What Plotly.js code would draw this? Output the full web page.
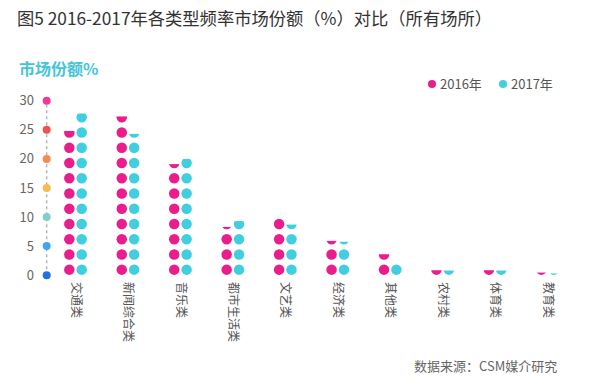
<!DOCTYPE html>
<html>
<head>
<meta charset="utf-8">
<script src="https://cdn.plot.ly/plotly-3.0.1.min.js"></script>
<style>html,body{margin:0;padding:0;background:#fff;}#chart{width:605px;height:386px;}</style>
</head>
<body>
<div id="chart"></div>
<script>
// ---- data ----
const categories = ['交通类','新闻综合类','音乐类','都市生活类','文艺类','经济类','其他类','农村类','体育类','教育类'];
const share2016 = [24.8, 27.3, 19.1, 8.3, 9.7, 5.9, 3.6, 0.85, 0.85, 0.45];
const share2017 = [27.8, 24.3, 20.0, 9.3, 8.7, 5.75, 2.0, 0.8, 0.8, 0.3];
const seriesNames = ['2016年', '2017年'];
const yTicks = [0, 5, 10, 15, 20, 25, 30];
const yTickColors = ['#1f6fe5', '#3ea6f4', '#80cfcf', '#f8bb4d', '#f78a4c', '#f0504f', '#ee3a9e'];

// ---- style ----
const PINK = '#e91e8c', CYAN = '#41cedf';
const FONT = '"Noto Sans CJK SC", "Noto Sans", sans-serif';
const W = 605, H = 386, L = 43, R = 26, T = 92, B = 105.2;
const PW = W - L - R, PH = H - T - B;
const DOT0 = 0.95, STEP = 2.62, DOTR = 0.9, OFF = 0.118, AXIS_X = -0.55;
const px2x = p => (p - L) / PW;
const py2y = p => (H - B - p) / PH;

function dotColumn(vals, off) {
  const xs = [], ys = [];
  vals.forEach((v, i) => {
    for (let k = 0; ; k++) {
      const c = DOT0 + k * STEP;
      if (c - DOTR >= v) break;
      xs.push(i + off); ys.push(c);
    }
  });
  return {xs, ys};
}
const d16 = dotColumn(share2016, -OFF);
const d17 = dotColumn(share2017, OFF);

const traces = [
  {x: yTicks.map(() => AXIS_X), y: yTicks, mode: 'lines', line: {color: '#b5b5b5', width: 1.5, dash: 'dot'}, hoverinfo: 'skip', showlegend: false},
  {x: yTicks.map(() => AXIS_X), y: yTicks, mode: 'markers', marker: {size: 8, color: yTickColors}, cliponaxis: false, hoverinfo: 'skip', showlegend: false},
  {x: d16.xs, y: d16.ys, mode: 'markers', name: seriesNames[0], marker: {size: 10.5, color: PINK}, cliponaxis: false, hoverinfo: 'skip', showlegend: false},
  {x: d17.xs, y: d17.ys, mode: 'markers', name: seriesNames[1], marker: {size: 10.5, color: CYAN}, cliponaxis: false, hoverinfo: 'skip', showlegend: false}
];

const shapes = [];
[[share2016, -OFF], [share2017, OFF]].forEach(([vals, off]) => {
  vals.forEach((v, i) => {
    shapes.push({type: 'rect', xref: 'x', yref: 'y', layer: 'above',
      x0: i + off - 0.115, x1: i + off + 0.115, y0: v, y1: v + 2.2,
      fillcolor: '#ffffff', line: {width: 0}});
  });
});
// legend dots
[[PINK, 432], [CYAN, 503]].forEach(([col, px]) => {
  shapes.push({type: 'circle', xref: 'paper', yref: 'paper', xsizemode: 'pixel', ysizemode: 'pixel',
    xanchor: px2x(px), yanchor: py2y(84), x0: -4, x1: 4, y0: -4, y1: 4,
    fillcolor: col, line: {width: 0}});
});

const annotations = [
  {text: '<b>市场份额%</b>', xref: 'paper', yref: 'paper', x: px2x(17), y: py2y(68), xanchor: 'left', yanchor: 'middle', showarrow: false,
   font: {family: FONT, size: 16, color: '#3fc6d8'}},
  {text: seriesNames[0], xref: 'paper', yref: 'paper', x: px2x(438), y: py2y(84), xanchor: 'left', yanchor: 'middle', showarrow: false,
   font: {family: FONT, size: 13, color: '#555'}},
  {text: seriesNames[1], xref: 'paper', yref: 'paper', x: px2x(509), y: py2y(84), xanchor: 'left', yanchor: 'middle', showarrow: false,
   font: {family: FONT, size: 13, color: '#555'}},
  {text: '数据来源：CSM媒介研究', xref: 'paper', yref: 'paper', x: px2x(412), y: py2y(365), xanchor: 'left', yanchor: 'middle', showarrow: false,
   font: {family: FONT, size: 13, color: '#666'}}
];

const layout = {
  width: W, height: H,
  margin: {l: L, r: R, t: T, b: B, pad: 0},
  paper_bgcolor: '#fff', plot_bgcolor: '#fff',
  font: {family: FONT, color: '#555'},
  title: {text: '图5 2016-2017年各类型频率市场份额（%）对比（所有场所）', xref: 'container', yref: 'container',
    x: 17 / W, y: 1 - 19 / H, xanchor: 'left', yanchor: 'middle', font: {family: FONT, size: 17.3, color: '#333'}},
  showlegend: false,
  xaxis: {range: [-0.62, 9.6], tickmode: 'array', tickvals: categories.map((c, i) => i), ticktext: categories,
    tickangle: 90, showgrid: false, zeroline: false, showline: false, ticks: '', fixedrange: true,
    tickfont: {family: FONT, size: 12, color: '#555'}},
  yaxis: {range: [-1, 31.5], tickmode: 'array', tickvals: yTicks, ticktext: yTicks.map(String),
    showgrid: false, zeroline: false, showline: false, ticks: '', ticklabelstandoff: 8, fixedrange: true,
    tickfont: {family: FONT, size: 13, color: '#666'}},
  shapes: shapes,
  annotations: annotations
};

Plotly.newPlot('chart', traces, layout, {displayModeBar: false, staticPlot: true});
</script>
</body>
</html>
